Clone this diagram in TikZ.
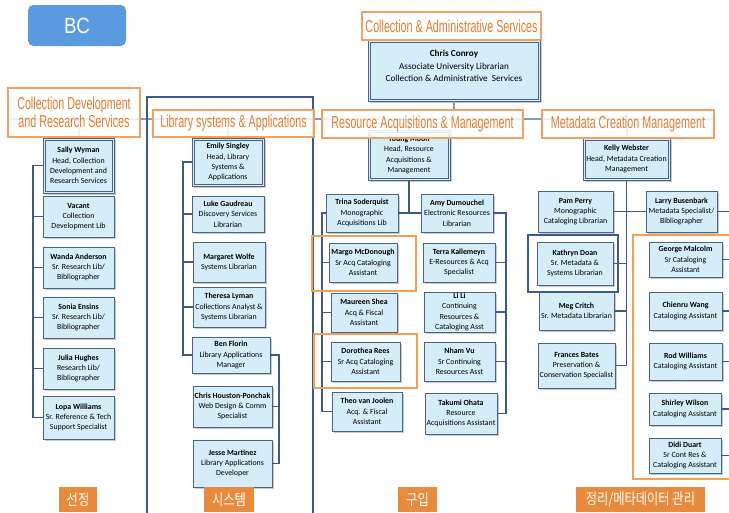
\documentclass[tikz,border=0pt]{standalone}
\usepackage{fontspec}
\setmainfont{Carlito}
\newfontfamily\hdrfont[FakeStretch=0.62]{Liberation Sans}
\newfontfamily\bcfont[FakeStretch=0.85]{Liberation Sans}
\newfontfamily\kofont[FakeStretch=0.8]{Noto Sans CJK KR}
\usetikzlibrary{shadows}

\definecolor{boxfill}{HTML}{D5EDF9}
\definecolor{boxedge}{HTML}{4A6584}
\definecolor{connblue}{HTML}{3D5A8A}
\definecolor{topblue}{HTML}{7F9CC0}
\definecolor{hdredge}{HTML}{F0A262}
\definecolor{hdrtext}{HTML}{E57E2F}
\definecolor{hiorange}{HTML}{F5A050}
\definecolor{groupblue}{HTML}{3A5A94}
\definecolor{bcfill}{HTML}{5A9BE0}
\definecolor{kofill}{HTML}{E98B3C}

\tikzset{
  pbox/.style={draw=boxedge, line width=0.5pt, fill=boxfill, inner sep=0pt,
    align=center, font=\fontsize{5.9}{7.7}\selectfont,
    drop shadow={shadow xshift=1.3pt, shadow yshift=-1.3pt, opacity=0.35, fill=black!60}},
  inframe/.style={draw=boxedge, line width=0.45pt},
  hdr/.style={draw=hdredge, line width=0.8pt, fill=white, fill opacity=0.85,
    text opacity=1, text=hdrtext, inner sep=0pt, align=center,
    font=\hdrfont\fontsize{13}{13.5}\selectfont},
  conn/.style={draw=connblue, line width=1pt},
  topline/.style={draw=topblue, line width=1.5pt},
  hilite/.style={draw=hiorange, line width=1.6pt},
  groupbox/.style={draw=groupblue, line width=1.6pt},
  kolabel/.style={fill=kofill, text=white, inner sep=0pt,
    font=\kofont\fontsize{11.5}{12}\selectfont},
}

% \orgbox[style]{name}{x1}{y1}{x2}{y2}{text}, corners in pixel units
\newcommand\orgbox[7][]{%
  \node[pbox,#1,minimum width={(#5-#3)*0.75pt},minimum height={(#6-#4)*0.75pt}]
    (#2) at ({(#3+#5)/2},{(#4+#6)/2}) {#7};}
% head of unit: same box with an inner second frame
\newcommand\headorg[6]{%
  \orgbox{#1}{#2}{#3}{#4}{#5}{#6}%
  \draw[inframe] ([shift={(1.7pt,1.7pt)}]#1.south west) rectangle ([shift={(-1.7pt,-1.7pt)}]#1.north east);}
% \framedlabel[style]{name}{x1}{y1}{x2}{y2}{text}
\newcommand\framedlabel[7][hdr]{%
  \node[#1,minimum width={(#5-#3)*0.75pt},minimum height={(#6-#4)*0.75pt}]
    (#2) at ({(#3+#5)/2},{(#4+#6)/2}) {#7};}

\begin{document}
\begin{tikzpicture}[x=0.75pt,y=-0.75pt]
\useasboundingbox (0,0) rectangle (729,512);

% BC tag
\node[fill=bcfill, rounded corners=4pt, text=white, minimum width={98*0.75pt},
  minimum height={41*0.75pt}, font=\bcfont\fontsize{16.5}{18}\selectfont]
  (bc) at (77,25.5) {BC};

% main rail
\coordinate (railL) at (8,119);
\coordinate (railR) at (714,119);
\draw[topline] (railL) -- (railR);

% associate university librarian
\orgbox{conroy}{368}{40}{540}{101}{}
\draw[inframe] ([shift={(1.7pt,1.7pt)}]conroy.south west) rectangle ([shift={(-1.7pt,-1.7pt)}]conroy.north east);
\node[font=\fontsize{6.9}{9.4}\selectfont, align=center, inner sep=0pt]
  (conroytxt) at (454,66) {\textbf{Chris Conroy}\\Associate University Librarian\\Collection \& Administrative\ \ Services};

% Collection Development and Research Services
\headorg{sally}{43}{138}{114}{193}{\textbf{Sally Wyman}\\Head, Collection\\Development and\\Research Services}
\orgbox{vacant}{43}{196}{114}{237}{\textbf{Vacant}\\Collection\\Development Lib}
\orgbox{wanda}{43}{247}{114}{288}{\textbf{Wanda Anderson}\\Sr. Research Lib/\\Bibliographer}
\orgbox{sonia}{43}{297}{114}{338}{\textbf{Sonia Ensins}\\Sr. Research Lib/\\Bibliographer}
\orgbox{julia}{43}{348}{114}{389}{\textbf{Julia Hughes}\\Research Lib/\\Bibliographer}
\orgbox{lopa}{43}{396}{114}{439}{\textbf{Lopa Williams}\\Sr. Reference \& Tech\\Support Specialist}

% Library systems & Applications
\headorg{emily}{192}{138}{264}{186}{\textbf{Emily Singley}\\Head, Library\\Systems \&\\Applications}
\orgbox{luke}{192}{196}{264}{232}{\textbf{Luke Gaudreau}\\Discovery Services\\Librarian}
\orgbox{margaret}{193}{242}{265}{282}{\textbf{Margaret Wolfe}\\Systems Librarian}
\orgbox{theresa}{193}{287}{265}{327}{\textbf{Theresa Lyman}\\Collections Analyst \&\\Systems Librarian}
\orgbox{ben}{192}{337}{270}{373}{\textbf{Ben Florin}\\Library Applications\\Manager}
\orgbox{chp}{193}{386}{272}{427}{\textbf{Chris Houston-Ponchak}\\Web Design \& Comm\\Specialist}
\orgbox{jesse}{193}{440}{272}{487}{\textbf{Jesse Martinez}\\Library Applications\\Developer}

% Resource Acquisitions & Management
\headorg{ymoon}{368}{130}{450}{180}{\textbf{Young Moon}\\Head, Resource\\Acquisitions \&\\Management}
\orgbox{trina}{326}{194}{398}{232}{\textbf{Trina Soderquist}\\Monographic\\Acquisitions Lib}
\orgbox{amy}{421}{194}{493}{232}{\textbf{Amy Dumouchel}\\Electronic Resources\\Librarian}
\orgbox{margo}{329}{243}{397}{282}{\textbf{Margo McDonough}\\Sr Acq Cataloging\\Assistant}
\orgbox{terra}{423}{243}{495}{282}{\textbf{Terra Kallemeyn}\\E-Resources \& Acq\\Specialist}
\orgbox{maureen}{331}{293}{397}{332}{\textbf{Maureen Shea}\\Acq \& Fiscal\\Assistant}
\orgbox{lili}{424}{292}{495}{332}{\textbf{Li Li}\\Continuing\\Resources \&\\Cataloging Asst}
\orgbox{dorothea}{331}{342}{400}{381}{\textbf{Dorothea Rees}\\Sr Acq Cataloging\\Assistant}
\orgbox{nham}{424}{342}{495}{381}{\textbf{Nham Vu}\\Sr Continuing\\Resources Asst}
\orgbox{theo}{332}{392}{402}{431}{\textbf{Theo van Joolen}\\Acq. \& Fiscal\\Assistant}
\orgbox{takumi}{425}{393}{497}{434}{\textbf{Takumi Ohata}\\Resource\\Acquisitions Assistant}

% Metadata Creation Management
\headorg{kelly}{583}{138}{670}{180}{\textbf{Kelly Webster}\\Head, Metadata Creation\\Management}
\orgbox{pam}{538}{191}{613}{232}{\textbf{Pam Perry}\\Monographic\\Cataloging Librarian}
\orgbox{larry}{646}{191}{717}{232}{\textbf{Larry Busenbark}\\Metadata Specialist/\\Bibliographer}
\orgbox{kathryn}{537}{242}{613}{285}{\textbf{Kathryn Doan}\\Sr. Metadata \&\\Systems Librarian}
\orgbox{meg}{539}{292}{614}{330}{\textbf{Meg Critch}\\Sr. Metadata Librarian}
\orgbox{frances}{538}{343}{615}{388}{\textbf{Frances Bates}\\Preservation \&\\Conservation Specialist}
\orgbox{george}{649}{242}{722}{277}{\textbf{George Malcolm}\\Sr Cataloging\\Assistant}
\orgbox{chienru}{649}{292}{722}{330}{\textbf{Chienru Wang}\\Cataloging Assistant}
\orgbox{rod}{649}{343}{722}{380}{\textbf{Rod Williams}\\Cataloging Assistant}
\orgbox{shirley}{649}{393}{721}{425}{\textbf{Shirley Wilson}\\Cataloging Assistant}
\orgbox{didi}{649}{438}{721}{473}{\textbf{Didi Duart}\\Sr Cont Res \&\\Cataloging Assistant}

% drops from the rail
\draw[topline] (conroy.south) -- (conroy.south |- railL);
\draw[topline] (sally.north |- railL) -- (sally.north);
\draw[topline] (emily.north |- railL) -- (emily.north);
\draw[topline] (ymoon.north |- railL) -- (ymoon.north);
\draw[topline] (kelly.north |- railL) -- (kelly.north);

% Library systems group frame
\draw[groupbox] (147,520) -- (147,97) -- (313,97) -- (313,520);

% section headings
\framedlabel{hdrAdmin}{362}{12}{541}{40}{Collection \& Administrative Services}
\framedlabel{hdrColl}{8}{88}{140}{137}{Collection Development\\and Research Services}
\framedlabel{hdrSys}{153}{110}{314}{137}{Library systems \& Applications}
\framedlabel{hdrAcq}{322}{110}{523}{138}{Resource Acquisitions \& Management}
\framedlabel{hdrMeta}{542}{110}{714}{138}{Metadata Creation Management}

% reporting lines
\coordinate (c1) at (33,0);
\coordinate (c2l) at (183,0);
\coordinate (c2r) at (279,0);
\coordinate (c3l) at (322,0);
\coordinate (c3r) at (506,0);
\coordinate (redge) at (729,0);

\draw[conn] (sally.west) -- (sally.west -| c1) -- (lopa.west -| c1) -- (lopa.west);
\foreach \n in {vacant,wanda,sonia,julia}
  \draw[conn] (\n.west) -- (\n.west -| c1);

\draw[conn] (emily.west) -- (emily.west -| c2l) -- (ben.west -| c2l) -- (ben.west);
\foreach \n in {luke,margaret,theresa}
  \draw[conn] (\n.west) -- (\n.west -| c2l);
\draw[conn] (ben.east) -- (ben.east -| c2r) -- (jesse.east -| c2r) -- (jesse.east);
\draw[conn] (chp.east) -- (chp.east -| c2r);

\draw[conn] (ymoon.south) -- (ymoon.south |- trina.east);
\draw[conn] (trina.east) -- (amy.west);
\draw[conn] (trina.west) -- (trina.west -| c3l) -- (theo.west -| c3l) -- (theo.west);
\foreach \n in {margo,maureen,dorothea}
  \draw[conn] (\n.west) -- (\n.west -| c3l);
\draw[conn] (amy.east) -- (amy.east -| c3r) -- (takumi.east -| c3r) -- (takumi.east);
\foreach \n in {terra,lili,nham}
  \draw[conn] (\n.east) -- (\n.east -| c3r);

\draw[conn] (kelly.south) -- (kelly.south |- frances.east) -- (frances.east);
\draw[conn] (pam.east) -- (larry.west);
\foreach \n in {kathryn,meg}
  \draw[conn] (\n.east) -- (\n.east -| kelly.south);
\foreach \n in {larry,george,chienru,rod,shirley,didi}
  \draw[conn] (\n.east) -- (\n.east -| redge);

% highlight frames
\draw[hilite] (312,236) rectangle (416,291);
\draw[hilite] (314,334) rectangle (417,388);
\draw[hilite] (633,235) rectangle (745,479);
\draw[groupbox] (528,235) rectangle (618,292);

% function tags
\framedlabel[kolabel]{koSel}{59}{487}{97}{512}{선정}
\framedlabel[kolabel]{koSys}{204}{487}{254}{512}{시스템}
\framedlabel[kolabel]{koAcq}{398}{487}{437}{512}{구입}
\framedlabel[kolabel]{koMeta}{576}{487}{705}{512}{정리/메타데이터 관리}
\end{tikzpicture}
\end{document}
